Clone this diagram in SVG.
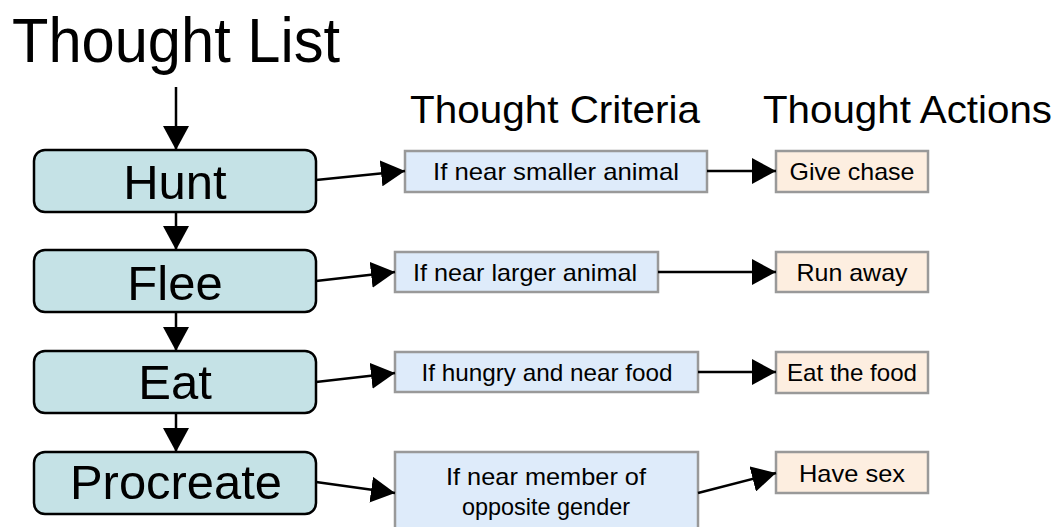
<svg xmlns="http://www.w3.org/2000/svg" width="1058" height="527" viewBox="0 0 1058 527">
<style>
text{font-family:"Liberation Sans",Arial,sans-serif;fill:#000}
.list rect{fill:#c5e2e6;stroke:#000;stroke-width:2.5}
.list text{font-size:49px;text-anchor:middle}
.crit rect{fill:#deebfa;stroke:#999;stroke-width:2.5}
.act rect{fill:#fdeee0;stroke:#999;stroke-width:2.5}
.crit text,.act text{font-size:24px;text-anchor:middle}
.hdr{font-size:39px}
.conn line{stroke:#000;stroke-width:2.5;marker-end:url(#ah)}
</style>
<defs>
<marker id="ah" markerUnits="userSpaceOnUse" markerWidth="24" markerHeight="26" refX="24" refY="13" orient="auto">
<path d="M0,0 L24,13 L0,26 Z" fill="#000"/>
</marker>
</defs>
<rect width="1058" height="527" fill="#fff"/>
<text x="12" y="62" style="font-size:63px" textLength="328" lengthAdjust="spacingAndGlyphs">Thought List</text>
<text class="hdr" x="410" y="123" textLength="290" lengthAdjust="spacingAndGlyphs">Thought Criteria</text>
<text class="hdr" x="763" y="123" textLength="289" lengthAdjust="spacingAndGlyphs">Thought Actions</text>
<g id="hunt" class="list"><rect x="34" y="150" width="282" height="62" rx="11"/><text x="175" y="199">Hunt</text></g>
<g id="flee" class="list"><rect x="34" y="250" width="282" height="62" rx="11"/><text x="175" y="300">Flee</text></g>
<g id="eat" class="list"><rect x="34" y="351" width="282" height="62" rx="11"/><text x="175" y="399">Eat</text></g>
<g id="procreate" class="list"><rect x="34" y="452" width="282" height="62" rx="11"/><text x="176" y="499" textLength="212" lengthAdjust="spacingAndGlyphs">Procreate</text></g>
<g id="crit1" class="crit"><rect x="405" y="151" width="302" height="41"/><text x="556" y="180" textLength="246" lengthAdjust="spacingAndGlyphs">If near smaller animal</text></g>
<g id="crit2" class="crit"><rect x="395" y="252" width="263" height="40"/><text x="525" y="281" textLength="224" lengthAdjust="spacingAndGlyphs">If near larger animal</text></g>
<g id="crit3" class="crit"><rect x="395" y="352" width="303" height="40"/><text x="547" y="381" textLength="251" lengthAdjust="spacingAndGlyphs">If hungry and near food</text></g>
<g id="crit4" class="crit"><rect x="395" y="452" width="303" height="80"/><text x="546" y="485" textLength="200" lengthAdjust="spacingAndGlyphs">If near member of</text><text x="546" y="515" textLength="168" lengthAdjust="spacingAndGlyphs">opposite gender</text></g>
<g id="act1" class="act"><rect x="776" y="151" width="152" height="41"/><text x="852" y="180" textLength="125" lengthAdjust="spacingAndGlyphs">Give chase</text></g>
<g id="act2" class="act"><rect x="776" y="252" width="152" height="40"/><text x="852" y="281" textLength="111" lengthAdjust="spacingAndGlyphs">Run away</text></g>
<g id="act3" class="act"><rect x="776" y="352" width="152" height="41"/><text x="852" y="381" textLength="130" lengthAdjust="spacingAndGlyphs">Eat the food</text></g>
<g id="act4" class="act"><rect x="776" y="452" width="152" height="41"/><text x="852" y="482" textLength="106" lengthAdjust="spacingAndGlyphs">Have sex</text></g>
<g id="connectors" class="conn">
<line x1="176" y1="87" x2="176" y2="150"/>
<line x1="176" y1="212" x2="176" y2="250"/>
<line x1="176" y1="312" x2="176" y2="351"/>
<line x1="176" y1="413" x2="176" y2="452"/>
<line x1="316" y1="180" x2="405" y2="171"/>
<line x1="316" y1="281" x2="395" y2="272"/>
<line x1="316" y1="382" x2="395" y2="373"/>
<line x1="316" y1="482" x2="395" y2="493"/>
<line x1="707" y1="171" x2="776" y2="171"/>
<line x1="658" y1="272" x2="776" y2="272"/>
<line x1="698" y1="372" x2="776" y2="372"/>
<line x1="698" y1="493" x2="776" y2="473"/>
</g>
</svg>
